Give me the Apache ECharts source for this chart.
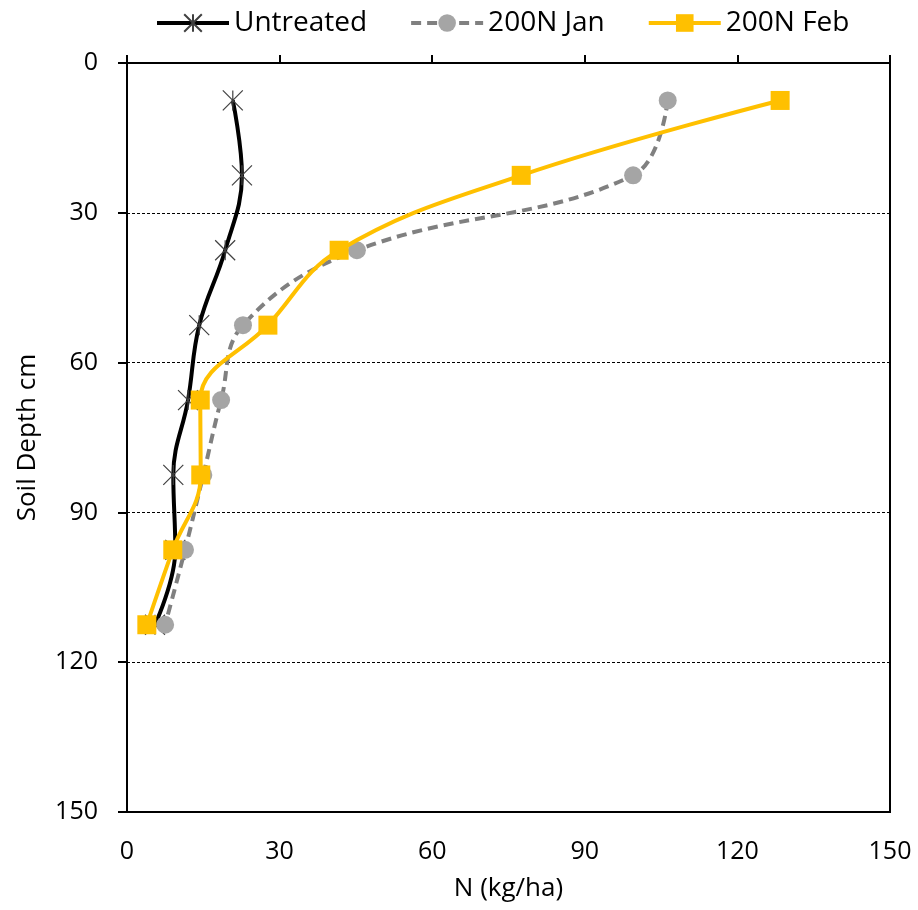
<!DOCTYPE html>
<html><head><meta charset="utf-8">
<script src="https://cdn.jsdelivr.net/npm/echarts@6/dist/echarts.min.js"></script>
<style>html,body{margin:0;padding:0;background:#fff}#c{width:918px;height:910px}</style>
</head><body><div id="c"></div>
<script>
const depths = [7.5, 22.5, 37.5, 52.5, 67.5, 82.5, 97.5, 112.5];
const untreated = [20.8, 22.6, 19.3, 14.2, 12.0, 9.1, 9.5, 5.5];
const jan200 = [106.3, 99.5, 45.2, 22.8, 18.5, 15.0, 11.4, 7.5];
const feb200 = [128.4, 77.5, 41.7, 27.7, 14.4, 14.5, 9.0, 3.9];
const xTicks = [0, 30, 60, 90, 120, 150];
const yTicks = [0, 30, 60, 90, 120, 150];
const seriesNames = ['Untreated', '200N Jan', '200N Feb'];

const pair = arr => arr.map((v, i) => [v, depths[i]]);
const FONT = 'Open Sans';
const chart = echarts.init(document.getElementById('c'), null, {renderer: 'canvas'});
const star = 'path://M0,0L20,20M20,0L0,20M10,0L10,20';
chart.setOption({
  animation: false,
  textStyle: {fontFamily: FONT},
  legend: {
    top: 4, left: 150, itemGap: 42, itemWidth: 72, itemHeight: 22,
    lineStyle: {width: 4},
    textStyle: {fontSize: 28, color: '#000', fontFamily: FONT, padding: [0, 0, 0, 0]},
    data: seriesNames
  },
  grid: {left: 127, right: 28, top: 63, bottom: 98, show: true, borderColor: '#000', borderWidth: 2, backgroundColor: 'transparent', outerBoundsMode: 'none', containLabel: false},
  xAxis: {
    type: 'value', min: xTicks[0], max: xTicks[xTicks.length - 1], interval: 30,
    name: 'N (kg/ha)', nameLocation: 'middle', nameGap: 64,
    nameTextStyle: {fontSize: 26, color: '#000'},
    axisLine: {show: true, lineStyle: {color: '#000', width: 2}},
    axisTick: {show: true, inside: true, length: 8, lineStyle: {color: '#000', width: 2}},
    axisLabel: {fontSize: 25, color: '#000', margin: 27},
    splitLine: {show: false}
  },
  yAxis: {
    type: 'value', inverse: true, min: yTicks[0], max: yTicks[yTicks.length - 1], interval: 30,
    name: 'Soil Depth cm', nameLocation: 'middle', nameGap: 86, nameRotate: 90,
    nameTextStyle: {fontSize: 26, color: '#000'},
    axisLine: {show: true, lineStyle: {color: '#000', width: 2}},
    axisTick: {show: true, inside: false, length: 9, lineStyle: {color: '#000', width: 2}},
    axisLabel: {fontSize: 25, color: '#000', margin: 29},
    splitLine: {show: true, lineStyle: {color: '#000', width: 1, type: [3, 2]}}
  },
  series: [
    {
      name: seriesNames[0], type: 'line', data: pair(untreated), smooth: 0.4,
      symbol: star, symbolSize: 20,
      lineStyle: {color: '#000', width: 4},
      itemStyle: {color: 'none', borderColor: '#404040', borderWidth: 1.2},
      z: 3
    },
    {
      name: seriesNames[1], type: 'line', data: pair(jan200), smooth: 0.4,
      symbol: 'circle', symbolSize: 18,
      lineStyle: {color: '#808080', width: 4, type: [10, 6]},
      itemStyle: {color: '#a5a5a5', borderWidth: 0},
      z: 4
    },
    {
      name: seriesNames[2], type: 'line', data: pair(feb200), smooth: 0.4,
      symbol: 'rect', symbolSize: 19,
      lineStyle: {color: '#ffc000', width: 4},
      itemStyle: {color: '#ffc000', borderWidth: 0},
      z: 5
    }
  ]
});
</script></body></html>
